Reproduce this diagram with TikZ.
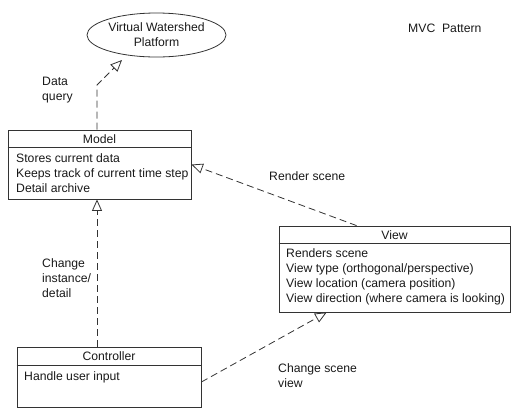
\documentclass[tikz,border=0pt]{standalone}
\usepackage{fontspec}
\setmainfont{Liberation Sans}
\usetikzlibrary{arrows.meta,shapes.geometric}
\begin{document}
\begin{tikzpicture}[x=1pt,y=-1pt,
  every node/.style={font=\fontsize{12.2}{15}\selectfont, text=black!90},
  umlbox/.style={draw=black!80, line width=0.8pt, rectangle, inner sep=0pt},
  txt/.style={anchor=base west, inner sep=0pt},
  ttl/.style={anchor=base, inner sep=0pt},
  dep/.style={draw=black!80, line width=0.8pt, dash pattern=on 7pt off 4pt,
    -{Triangle[open, length=11.5pt, width=10pt, line width=0.8pt]}}]
\useasboundingbox (0,0) rectangle (511,408);

% Ellipse
\node[draw=black!80, line width=0.8pt, ellipse, minimum width=139pt, minimum height=44pt,
  inner sep=0pt, align=center] (vwp) at (156.5,35) {Virtual Watershed\\Platform};

% Model
\node[umlbox, minimum width=183pt, minimum height=69pt] (model) at (99.5,164.5) {};
\draw[black!80, line width=0.8pt] (model.west |- 0,147) -- (model.east |- 0,147);
\node[ttl] (modelt) at (99.5,143) {Model};
\node[txt] (m1) at (16,162) {Stores current data};
\node[txt] (m2) at (16,177) {Keeps track of current time step};
\node[txt] (m3) at (16,192) {Detail archive};

% View
\node[umlbox, minimum width=231pt, minimum height=86pt] (view) at (394.5,269) {};
\draw[black!80, line width=0.8pt] (view.west |- 0,243) -- (view.east |- 0,243);
\node[ttl] (viewt) at (394.5,239) {View};
\node[txt] (v1) at (286,257) {Renders scene};
\node[txt] (v2) at (286,272) {View type (orthogonal/perspective)};
\node[txt] (v3) at (286,287) {View location (camera position)};
\node[txt] (v4) at (286,302) {View direction (where camera is looking)};

% Controller
\node[umlbox, minimum width=184pt, minimum height=60pt] (ctrl) at (109,377) {};
\draw[black!80, line width=0.8pt] (ctrl.west |- 0,365) -- (ctrl.east |- 0,365);
\node[ttl] (ctrlt) at (109,360) {Controller};
\node[txt] (c1) at (24,380) {Handle user input};

% Title
\node[txt] (mvc) at (408,32) {MVC\ \ Pattern};

% Labels
\node[txt] (l1a) at (42,85) {Data};
\node[txt] (l1b) at (42,100.5) {query};
\node[txt] (l2) at (269,180) {Render scene};
\node[txt] (l3a) at (42,267) {Change};
\node[txt] (l3b) at (42,282) {instance/};
\node[txt] (l3c) at (42,297) {detail};
\node[txt] (l4a) at (278,372) {Change scene};
\node[txt] (l4b) at (278,387) {view};

% Connectors
\coordinate (bend) at (97,85);
\coordinate (tipA) at (122,60);
\draw[dep] (bend |- model.north) -- (bend) -- (tipA);
\draw[dep] ([xshift=78pt]view.north west) -- (model.east);
\draw[dep] (bend |- ctrl.north) -- (bend |- model.south);
\draw[dep] ([yshift=-5pt]ctrl.east) -- ([xshift=48pt]view.south west);
\end{tikzpicture}
\end{document}
